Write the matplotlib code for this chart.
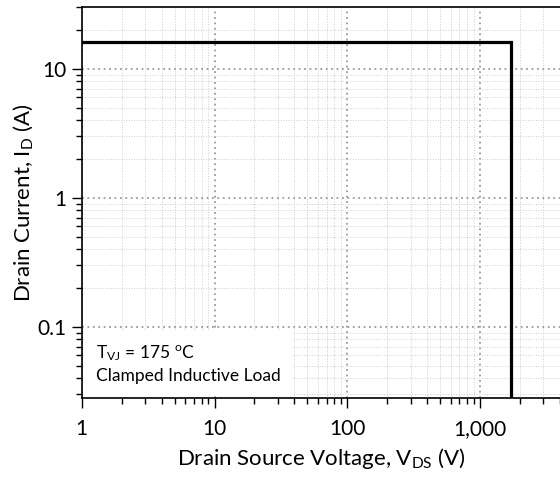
import numpy as np
import matplotlib
matplotlib.use("Agg")
import matplotlib.pyplot as plt
from matplotlib.ticker import FixedLocator, FixedFormatter, LogLocator, NullFormatter

plt.rcParams['font.family'] = ['Lato', 'DejaVu Sans']
plt.rcParams['mathtext.fontset'] = 'custom'
plt.rcParams['mathtext.rm'] = 'Lato'
plt.rcParams['mathtext.default'] = 'regular'

# safe operating area boundary
voltage = [1, 1700, 1700]
current = [16, 16, 0.01]

x_ticks = [1, 10, 100, 1000]
x_labels = ['1', '10', '100', '1,000']
y_ticks = [0.1, 1, 10]
y_labels = ['0.1', '1', '10']

fig = plt.figure(figsize=(5.6, 4.78), dpi=100)
ax = fig.add_axes([0.146, 0.167, 0.854, 0.818])

ax.plot(voltage, current, color='k', linewidth=2.3, solid_joinstyle='miter', zorder=3)

ax.set_xscale('log')
ax.set_yscale('log')
ax.set_xlim(1, 4000)
ax.set_ylim(0.028, 30)

ax.xaxis.set_major_locator(FixedLocator(x_ticks))
ax.xaxis.set_major_formatter(FixedFormatter(x_labels))
ax.yaxis.set_major_locator(FixedLocator(y_ticks))
ax.yaxis.set_major_formatter(FixedFormatter(y_labels))
ax.xaxis.set_minor_locator(LogLocator(base=10, subs=np.arange(2, 10)))
ax.yaxis.set_minor_locator(LogLocator(base=10, subs=np.arange(2, 10)))
ax.xaxis.set_minor_formatter(NullFormatter())
ax.yaxis.set_minor_formatter(NullFormatter())

ax.grid(which='major', linestyle=(0, (1, 2)), color='#9a9a9a', linewidth=1.3)
ax.grid(which='minor', linestyle=':', color='#cccccc', linewidth=0.7)
ax.set_axisbelow(True)

ax.tick_params(which='major', direction='out', length=7, width=1, labelsize=15)
ax.tick_params(axis='x', which='major', pad=8)
ax.tick_params(axis='y', which='major', pad=4)
ax.tick_params(which='minor', direction='out', length=4, width=1)
ax.spines['right'].set_visible(False)
for s in ['left', 'bottom', 'top']:
    ax.spines[s].set_linewidth(1.2)

ax.set_xlabel('Drain Source Voltage, V$_{DS}$ (V)', fontsize=16, labelpad=5)
ax.set_ylabel('Drain Current, I$_{D}$ (A)', fontsize=16, labelpad=2)

ax.text(0.03, 0.035, 'T$_{VJ}$ = 175 $^{o}$C\nClamped Inductive Load',
        transform=ax.transAxes, fontsize=12.5, linespacing=1.4, va='bottom', ha='left',
        bbox=dict(facecolor='white', edgecolor='none', pad=8), zorder=2)

fig.savefig('out.png', dpi=100)
